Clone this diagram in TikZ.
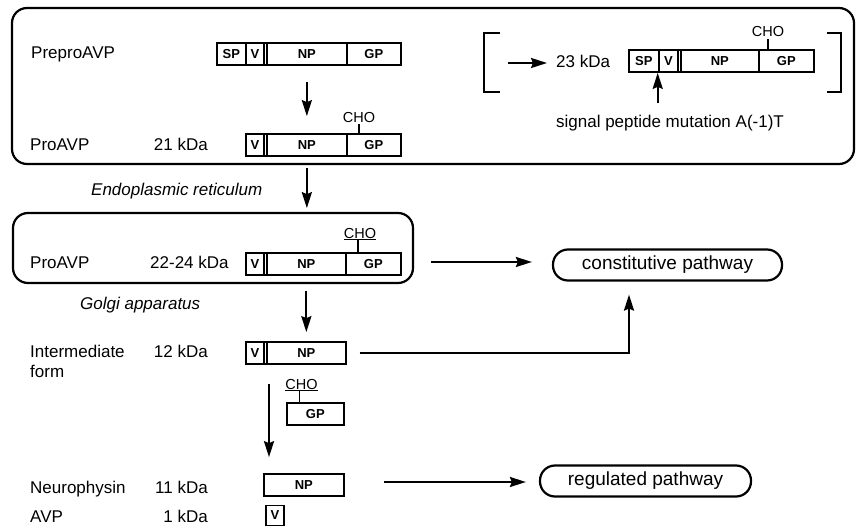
\documentclass[tikz,border=0pt]{standalone}
\usepackage{fontspec}
\setmainfont{Liberation Sans}
\usetikzlibrary{arrows.meta}
\begin{document}
\begin{tikzpicture}[x=1pt,y=-1pt,
  lbl/.style={font=\fontsize{17}{20}\selectfont, inner sep=0pt},
  ilbl/.style={font=\fontsize{17}{20}\selectfont\itshape, inner sep=0pt},
  seg/.style={draw, line width=1.7pt, minimum height=22pt, inner sep=0pt, anchor=west, font=\bfseries\fontsize{13}{13}\selectfont},
  cho/.style={font=\fontsize{14.5}{16}\selectfont, inner sep=0pt},
  tick/.style={line width=1.5pt},
  arr/.style={line width=2.2pt, -{Stealth[length=16pt,width=10pt,inset=2pt]}},
  frame/.style={draw, line width=2.2pt, rounded corners=15pt, inner sep=0pt},
  pway/.style={draw, line width=2.2pt, rounded corners=15pt, inner sep=0pt, font=\fontsize{19}{22}\selectfont},
  brk/.style={line width=2.2pt}]
\useasboundingbox (0,0) rectangle (857,527);

% frames
\node[frame, minimum width=842pt, minimum height=156pt] (er) at (433,86) {};
\node[frame, minimum width=400pt, minimum height=70pt] (golgi) at (213,248) {};

% row 1: PreproAVP
\node[seg, minimum width=29pt] (pp-sp) at (216,54) {SP};
\node[seg, minimum width=18pt] (pp-v) at (245,54) {V};
\node[seg, minimum width=3pt] (pp-g) at (263,54) {};
\node[seg, minimum width=80pt] (pp-np) at (266,54) {NP};
\node[seg, minimum width=54pt] (pp-gp) at (346,54) {GP};

% row 2: ProAVP 21 kDa
\node[seg, minimum width=18pt] (pro-v) at (245,145) {V};
\node[seg, minimum width=3pt] (pro-g) at (263,145) {};
\node[seg, minimum width=80pt] (pro-np) at (266,145) {NP};
\node[seg, minimum width=54pt] (pro-gp) at (346,145) {GP};

% row 3: ProAVP 22-24 kDa
\node[seg, minimum width=18pt] (g-v) at (245,264) {V};
\node[seg, minimum width=3pt] (g-g) at (263,264) {};
\node[seg, minimum width=79pt] (g-np) at (266,264) {NP};
\node[seg, minimum width=55pt] (g-gp) at (345,264) {GP};

% intermediate
\node[seg, minimum width=18pt] (i-v) at (245,353) {V};
\node[seg, minimum width=3pt] (i-g) at (263,353) {};
\node[seg, minimum width=79pt] (i-np) at (266,353) {NP};

% GP fragment
\node[seg, minimum width=57pt] (f-gp) at (286,414) {GP};

% neurophysin, AVP
\node[seg, minimum width=80pt] (n-np) at (263,485) {NP};
\node[seg, minimum width=18pt, minimum height=20pt] (a-v) at (265,515.5) {V};

% 23 kDa mutant
\node[seg, minimum width=30pt] (sp23) at (628,61) {SP};
\node[seg, minimum width=19pt] (v23) at (658,61) {V};
\node[seg, minimum width=3pt] (g23) at (677,61) {};
\node[seg, minimum width=78pt] (np23) at (680,61) {NP};
\node[seg, minimum width=55pt] (gp23) at (758,61) {GP};

% labels
\node[lbl, anchor=base west] (t-prepro) at (31,59) {PreproAVP};
\node[lbl, anchor=base west] (t-pro1) at (30,150) {ProAVP};
\node[lbl, anchor=base east] (k21) at (208,150) {21 kDa};
\node[ilbl, anchor=base west] (t-er) at (91,195) {Endoplasmic reticulum};
\node[lbl, anchor=base west] (t-pro2) at (30,268) {ProAVP};
\node[lbl, anchor=base west] (k2224) at (150,268) {22-24 kDa};
\node[ilbl, anchor=base west] (t-golgi) at (80,309) {Golgi apparatus};
\node[lbl, anchor=base west] (t-int) at (30,357) {Intermediate};
\node[lbl, anchor=base west] (t-form) at (30,377) {form};
\node[lbl, anchor=base east] (k12) at (208,357) {12 kDa};
\node[lbl, anchor=base west] (t-neu) at (30,493) {Neurophysin};
\node[lbl, anchor=base east] (k11) at (208,493) {11 kDa};
\node[lbl, anchor=base west] (t-avp) at (30,522) {AVP};
\node[lbl, anchor=base east] (k1) at (208,522) {1 kDa};
\node[lbl, anchor=base west] (k23) at (556,68) {23 kDa};
\node[lbl, anchor=base] (sig) at (670,128) {signal peptide mutation A(-1)T};

% CHO
\node[cho, anchor=base] (cho2) at (359,122) {CHO};
\draw[tick, shorten <=2pt] (cho2.south) -- (cho2.south |- pro-gp.north);
\node[cho, anchor=base] (cho3) at (360,238) {\underline{CHO}};
\draw[tick] ([xshift=-2pt]cho3.south) -- ([xshift=-2pt]cho3.south |- g-gp.north);
\node[cho, anchor=base] (cho4) at (301.5,389) {\underline{CHO}};
\draw[tick] ([xshift=-2pt]cho4.south) -- ([xshift=-2pt]cho4.south |- f-gp.north);
\node[cho, anchor=base] (cho23) at (768,37) {CHO};
\draw[tick, shorten <=2pt] (cho23.south) -- (cho23.south |- gp23.north);

% pathways
\node[pway, minimum width=229pt, minimum height=31pt] (cons) at (667.5,265) {constitutive pathway};
\node[pway, minimum width=211pt, minimum height=31pt] (reg) at (645.5,481) {regulated pathway};

% brackets
\draw[brk] (500,33) -- (484,33) -- (484,92) -- (500,92);
\draw[brk] (827,33) -- (841,33) -- (841,92) -- (827,92);

% arrows
\draw[arr, shorten <=16pt, shorten >=17pt] (pp-np.south) -- (pp-np.south |- pro-np.north);
\draw[arr, shorten <=11pt, shorten >=44pt] (pro-np.south) -- (pro-np.south |- g-np.north);
\draw[arr, shorten <=15pt, shorten >=9pt] (g-np.south) -- (g-np.south |- i-np.north);
\draw[arr] ([shift={(3,19)}]i-np.south west) -- ([shift={(6,-16)}]n-np.north west);
\draw[arr] ([shift={(17,14)}]golgi.east) -- ([shift={(-20,-3)}]cons.west);
\draw[arr] ([shift={(13,0)}]i-np.east) -| ([shift={(-38.5,13)}]cons.south);
\draw[arr] ([shift={(39,-3)}]n-np.east) -- ([shift={(-13,1)}]reg.west);
\coordinate (a23) at (508,63);
\draw[arr, shorten >=9pt] (a23) -- (a23 -| k23.west);
\coordinate (mutp) at ([xshift=-2pt]sp23.south east);
\draw[arr, shorten <=12pt] (mutp |- sig.north) -- (mutp);
\end{tikzpicture}
\end{document}
